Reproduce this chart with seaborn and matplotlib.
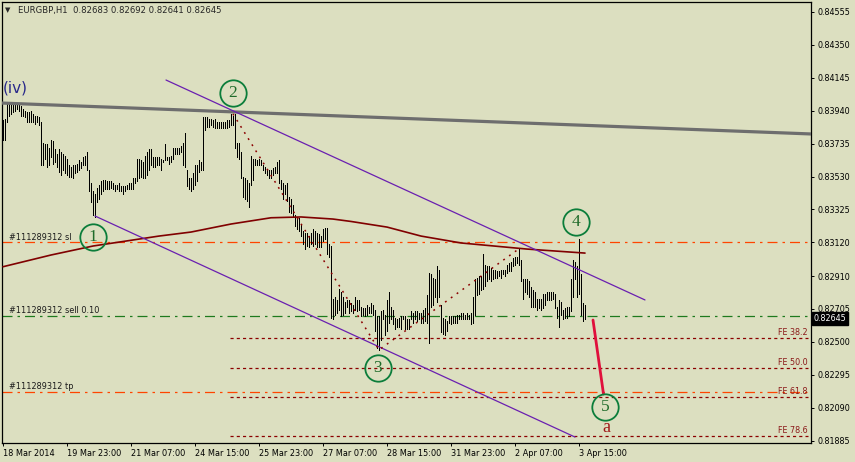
import numpy as np
import pandas as pd
import seaborn as sns
import matplotlib.pyplot as plt

# --- data (EURGBP H1, one bar per hour) ---
bar_high = [
    0.8388, 0.8389, 0.8398, 0.8398, 0.8398, 0.8399, 0.8399, 0.8399, 0.8399, 0.8397,
    0.8395, 0.8394, 0.8393, 0.8393, 0.8394, 0.8392, 0.8391, 0.8391, 0.8390, 0.8387,
    0.8374, 0.8373, 0.8373, 0.8371, 0.8376, 0.8375, 0.8370, 0.8367, 0.8370, 0.8368,
    0.8367, 0.8366, 0.8364, 0.8360, 0.8359, 0.8360, 0.8360, 0.8361, 0.8363, 0.8362,
    0.8365, 0.8366, 0.8368, 0.8357, 0.8349, 0.8344, 0.8342, 0.8346, 0.8348, 0.8350,
    0.8351, 0.8351, 0.8350, 0.8350, 0.8350, 0.8349, 0.8348, 0.8348, 0.8349, 0.8347,
    0.8347, 0.8347, 0.8348, 0.8349, 0.8349, 0.8352, 0.8352, 0.8364, 0.8364, 0.8363,
    0.8362, 0.8366, 0.8368, 0.8370, 0.8370, 0.8365, 0.8365, 0.8365, 0.8365, 0.8364,
    0.8363, 0.8373, 0.8365, 0.8365, 0.8366, 0.8371, 0.8371, 0.8371, 0.8371, 0.8372,
    0.8374, 0.8380, 0.8357, 0.8352, 0.8352, 0.8355, 0.8360, 0.8360, 0.8363, 0.8362,
    0.8390, 0.8390, 0.8390, 0.8389, 0.8389, 0.8388, 0.8389, 0.8387, 0.8387, 0.8387,
    0.8387, 0.8387, 0.8388, 0.8388, 0.8392, 0.8391, 0.8392, 0.8374, 0.8374, 0.8368,
    0.8353, 0.8352, 0.8351, 0.8349, 0.8366, 0.8364, 0.8364, 0.8363, 0.8364, 0.8363,
    0.8360, 0.8359, 0.8357, 0.8357, 0.8357, 0.8358, 0.8359, 0.8362, 0.8363, 0.8351,
    0.8349, 0.8348, 0.8349, 0.8340, 0.8339, 0.8335, 0.8329, 0.8328, 0.8327, 0.8323,
    0.8319, 0.8318, 0.8318, 0.8316, 0.8318, 0.8320, 0.8319, 0.8318, 0.8317, 0.8316,
    0.8320, 0.8321, 0.8321, 0.8311, 0.8310, 0.8277, 0.8278, 0.8276, 0.8283, 0.8281,
    0.8278, 0.8275, 0.8276, 0.8276, 0.8274, 0.8273, 0.8278, 0.8276, 0.8276, 0.8272,
    0.8271, 0.8271, 0.8273, 0.8272, 0.8274, 0.8273, 0.8270, 0.8266, 0.8266, 0.8269,
    0.8270, 0.8267, 0.8276, 0.8281, 0.8272, 0.8270, 0.8265, 0.8264, 0.8265, 0.8266,
    0.8266, 0.8266, 0.8264, 0.8264, 0.8269, 0.8268, 0.8269, 0.8269, 0.8268, 0.8268,
    0.8270, 0.8271, 0.8279, 0.8293, 0.8292, 0.8290, 0.8289, 0.8297, 0.8295, 0.8273,
    0.8265, 0.8264, 0.8263, 0.8266, 0.8266, 0.8266, 0.8266, 0.8267, 0.8267, 0.8268,
    0.8268, 0.8267, 0.8268, 0.8267, 0.8268, 0.8278, 0.8289, 0.8290, 0.8291, 0.8291,
    0.8305, 0.8298, 0.8297, 0.8297, 0.8296, 0.8295, 0.8295, 0.8294, 0.8294, 0.8295,
    0.8295, 0.8295, 0.8298, 0.8299, 0.8300, 0.8302, 0.8303, 0.8303, 0.8308, 0.8301,
    0.8289, 0.8289, 0.8289, 0.8288, 0.8284, 0.8282, 0.8281, 0.8277, 0.8277, 0.8277,
    0.8280, 0.8280, 0.8281, 0.8281, 0.8281, 0.8281, 0.8280, 0.8272, 0.8276, 0.8275,
    0.8270, 0.8271, 0.8272, 0.8272, 0.8289, 0.8301, 0.8300, 0.8297, 0.8314, 0.8292,
    0.8274, 0.8273,
]
bar_low = [
    0.8376, 0.8376, 0.8387, 0.8391, 0.8392, 0.8393, 0.8394, 0.8395, 0.8394, 0.8391,
    0.8391, 0.8390, 0.8387, 0.8387, 0.8387, 0.8387, 0.8386, 0.8387, 0.8385, 0.8360,
    0.8360, 0.8364, 0.8359, 0.8360, 0.8365, 0.8361, 0.8362, 0.8359, 0.8356, 0.8354,
    0.8357, 0.8355, 0.8354, 0.8353, 0.8353, 0.8352, 0.8355, 0.8356, 0.8357, 0.8358,
    0.8360, 0.8360, 0.8357, 0.8344, 0.8337, 0.8329, 0.8328, 0.8337, 0.8339, 0.8342,
    0.8344, 0.8345, 0.8345, 0.8345, 0.8346, 0.8345, 0.8344, 0.8345, 0.8344, 0.8344,
    0.8342, 0.8344, 0.8345, 0.8345, 0.8345, 0.8345, 0.8349, 0.8350, 0.8352, 0.8353,
    0.8352, 0.8352, 0.8354, 0.8357, 0.8360, 0.8359, 0.8359, 0.8360, 0.8360, 0.8357,
    0.8362, 0.8363, 0.8363, 0.8361, 0.8362, 0.8364, 0.8367, 0.8367, 0.8367, 0.8368,
    0.8360, 0.8359, 0.8347, 0.8345, 0.8344, 0.8345, 0.8348, 0.8350, 0.8356, 0.8357,
    0.8357, 0.8382, 0.8384, 0.8384, 0.8385, 0.8384, 0.8383, 0.8383, 0.8383, 0.8383,
    0.8383, 0.8383, 0.8383, 0.8384, 0.8385, 0.8385, 0.8371, 0.8365, 0.8364, 0.8352,
    0.8340, 0.8339, 0.8338, 0.8334, 0.8348, 0.8351, 0.8360, 0.8360, 0.8360, 0.8360,
    0.8357, 0.8355, 0.8354, 0.8352, 0.8352, 0.8354, 0.8355, 0.8355, 0.8349, 0.8345,
    0.8339, 0.8342, 0.8338, 0.8331, 0.8330, 0.8328, 0.8322, 0.8320, 0.8319, 0.8316,
    0.8311, 0.8308, 0.8310, 0.8309, 0.8311, 0.8310, 0.8311, 0.8309, 0.8309, 0.8309,
    0.8313, 0.8314, 0.8305, 0.8303, 0.8265, 0.8264, 0.8267, 0.8268, 0.8270, 0.8266,
    0.8267, 0.8268, 0.8272, 0.8268, 0.8269, 0.8268, 0.8270, 0.8269, 0.8270, 0.8266,
    0.8267, 0.8266, 0.8267, 0.8268, 0.8268, 0.8267, 0.8257, 0.8246, 0.8245, 0.8251,
    0.8264, 0.8254, 0.8257, 0.8262, 0.8264, 0.8261, 0.8258, 0.8259, 0.8259, 0.8258,
    0.8264, 0.8258, 0.8258, 0.8258, 0.8264, 0.8262, 0.8264, 0.8263, 0.8264, 0.8262,
    0.8262, 0.8263, 0.8262, 0.8249, 0.8272, 0.8273, 0.8278, 0.8275, 0.8278, 0.8256,
    0.8255, 0.8254, 0.8257, 0.8262, 0.8261, 0.8262, 0.8262, 0.8262, 0.8264, 0.8264,
    0.8264, 0.8264, 0.8264, 0.8264, 0.8261, 0.8262, 0.8267, 0.8279, 0.8280, 0.8282,
    0.8283, 0.8285, 0.8288, 0.8289, 0.8288, 0.8289, 0.8290, 0.8290, 0.8291, 0.8290,
    0.8292, 0.8291, 0.8293, 0.8294, 0.8294, 0.8297, 0.8298, 0.8299, 0.8298, 0.8288,
    0.8277, 0.8281, 0.8280, 0.8278, 0.8272, 0.8272, 0.8272, 0.8270, 0.8271, 0.8270,
    0.8271, 0.8273, 0.8276, 0.8276, 0.8276, 0.8277, 0.8271, 0.8265, 0.8259, 0.8267,
    0.8264, 0.8265, 0.8265, 0.8266, 0.8269, 0.8278, 0.8289, 0.8278, 0.8280, 0.8267,
    0.8263, 0.8264,
]

# moving average read at a few bars
ma_bar = [0, 24, 45, 78, 94, 114, 134, 149, 165, 174, 192, 209, 229, 262, 291]
ma_val = [0.82968, 0.83041, 0.83097, 0.83159, 0.83184, 0.83234, 0.83273, 0.83278,
          0.83265, 0.83250, 0.83215, 0.83159, 0.83116, 0.83078, 0.83053]

# trend lines (bar, price) end points
grey_bar, grey_val = [-1.5, 404], [0.83988, 0.83795]
upper_bar, upper_val = [81.5, 321], [0.84131, 0.82761]
lower_bar, lower_val = [46, 286], [0.83284, 0.81907]
wave_bar, wave_val = [115, 188, 258], [0.8392, 0.8245, 0.8308]
proj_bar, proj_val = [295, 300.25], [0.82636, 0.82175]

# order levels
sl_price, sell_price, tp_price = 0.83120, 0.82661, 0.82187
fe_names = ["FE 38.2", "FE 50.0", "FE 61.8", "FE 78.6"]
fe_prices = [0.82524, 0.82337, 0.82156, 0.81913]

# wave labels
wave_labels = ["1", "2", "3", "4", "5"]
wave_lab_bar = [45, 115, 187.5, 286.5, 301]
wave_lab_val = [0.83153, 0.84050, 0.82337, 0.83247, 0.82094]

time_ticks = [0, 32, 64, 96, 128, 160, 192, 224, 256, 288]
time_labels = ["18 Mar 2014", "19 Mar 23:00", "21 Mar 07:00", "24 Mar 15:00",
               "25 Mar 23:00", "27 Mar 07:00", "28 Mar 15:00", "31 Mar 23:00",
               "2 Apr 07:00", "3 Apr 15:00"]
price_ticks = [0.84555, 0.84350, 0.84145, 0.83940, 0.83735, 0.83530, 0.83325,
               0.83120, 0.82910, 0.82705, 0.82500, 0.82295, 0.82090, 0.81885]
last_price = 0.82645

bg = "#dcdfc0"
sns.set_theme(style="white", rc={"axes.facecolor": bg, "figure.facecolor": bg,
                                 "axes.edgecolor": "black"})
plt.rcParams["font.family"] = ["DejaVu Sans"]

fig = plt.figure(figsize=(8.55, 4.62), dpi=100)
ax = fig.add_axes([2 / 855, 19 / 462, 809 / 855, 441 / 462])

# bars
bars = pd.DataFrame({"bar": np.arange(len(bar_high)), "high": bar_high, "low": bar_low})
ax.vlines(bars["bar"], bars["low"], bars["high"], colors="black", linewidth=0.55,
          antialiased=False, zorder=3)

# horizontal order lines
ax.axhline(sl_price, color="#ff4500", lw=0.9, dashes=(8, 4, 2, 4), zorder=2)
ax.axhline(tp_price, color="#ff4500", lw=0.9, dashes=(8, 4, 2, 4), zorder=2)
ax.axhline(sell_price, color="#1e7a1e", lw=0.9, dashes=(8, 4, 2, 4), zorder=2)
for lab, y in zip(["#111289312 sl", "#111289312 sell 0.10", "#111289312 tp"],
                  [sl_price, sell_price, tp_price]):
    ax.text(3, y + 0.00005, lab, fontsize=5.9, color="#1a1a1a", va="bottom", ha="left")

# fibo expansion levels
for name, y in zip(fe_names, fe_prices):
    ax.plot([113.5, 402.5], [y, y], color="#8b0000", lw=0.9, dashes=(2.5, 2.5), zorder=2)
    ax.text(402.5, y + 0.00004, name, fontsize=5.8, color="#8b1a1a", ha="right", va="bottom")

# moving average and trend lines
sns.lineplot(x=ma_bar, y=ma_val, ax=ax, color="#800000", lw=1.2, zorder=4)
sns.lineplot(x=grey_bar, y=grey_val, ax=ax, color="#6e6e6e", lw=2.3, zorder=4)
sns.lineplot(x=upper_bar, y=upper_val, ax=ax, color="#6a1fb0", lw=0.9, zorder=4)
sns.lineplot(x=lower_bar, y=lower_val, ax=ax, color="#6a1fb0", lw=0.9, zorder=4)
ax.plot(wave_bar, wave_val, color="#8b0000", lw=1.1, dashes=(1.2, 3.5), zorder=4)
sns.lineplot(x=proj_bar, y=proj_val, ax=ax, color="#e0103c", lw=2.0, zorder=5)

# wave count circles
ax.plot(wave_lab_bar, wave_lab_val, ls="none", marker="o", ms=19, mfc="none",
        mec="#0b7d3a", mew=1.3, zorder=6)
for lab, x, y in zip(wave_labels, wave_lab_bar, wave_lab_val):
    ax.text(x, y, lab, fontsize=12.5, family="Liberation Serif", color="#1f6b2a",
            ha="center", va="center", zorder=7)
ax.text(6, 0.84082, "(iv)", fontsize=11, color="#27278a", ha="center", va="center")
ax.text(301.5, 0.81968, "a", fontsize=13, family="Liberation Serif", color="#a01818",
        ha="center", va="center")

# axes
ax.set_xlim(-0.5, 404)
ax.set_ylim(0.81870, 0.84617)
ax.set_xticks(time_ticks)
ax.set_xticklabels(time_labels, fontsize=5.9, ha="left")
ax.yaxis.tick_right()
ax.set_yticks(price_ticks)
ax.set_yticklabels([f"{p:.5f}" for p in price_ticks], fontsize=5.8)
ax.tick_params(axis="both", direction="out", length=2.5, width=0.7, pad=2,
               colors="black", bottom=True, right=True)
ax.grid(False)
for s in ax.spines.values():
    s.set_linewidth(0.9)
    s.set_color("black")
ax.set_xlabel("")
ax.set_ylabel("")
if ax.get_legend():
    ax.get_legend().remove()

ax.text(1.003, last_price, f"{last_price:.5f}", transform=ax.get_yaxis_transform(),
        fontsize=5.8, color="white", va="center", ha="left", clip_on=False, zorder=10,
        bbox=dict(facecolor="black", edgecolor="black", boxstyle="square,pad=0.2"))

fig.text(5 / 855, 1 - 10 / 462, "\u25bc", fontsize=5, va="center", ha="left")
fig.text(18 / 855, 1 - 10 / 462, "EURGBP,H1  0.82683 0.82692 0.82641 0.82645",
         fontsize=6.1, va="center", ha="left")

fig.savefig("out.png", dpi=100)
